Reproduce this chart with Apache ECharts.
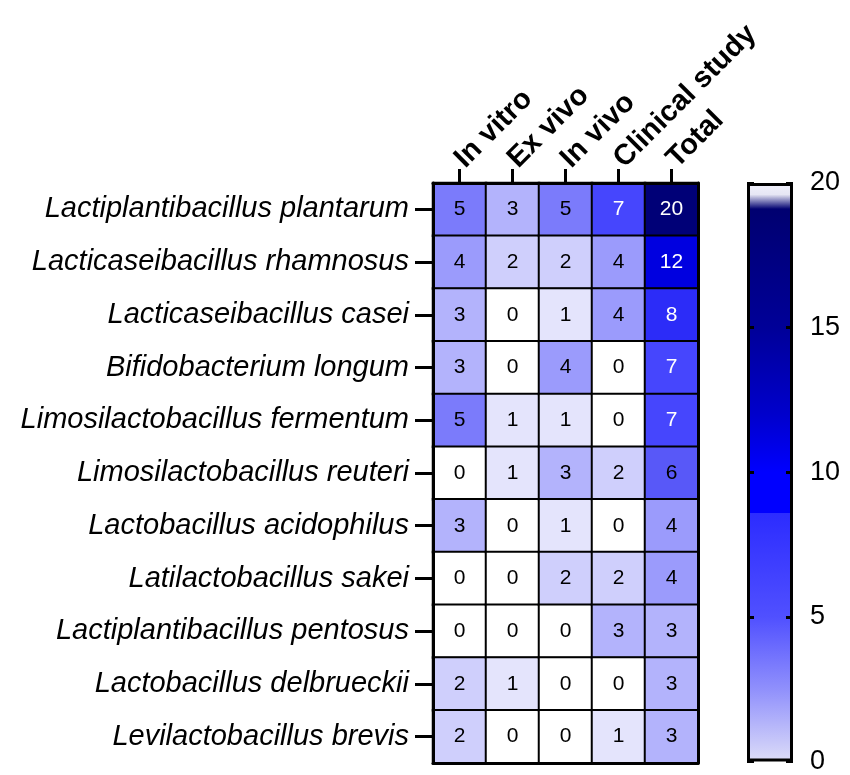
<!DOCTYPE html>
<html>
<head>
<meta charset="utf-8">
<script src="https://cdn.jsdelivr.net/npm/echarts@6/dist/echarts.min.js"></script>
<style>html,body{margin:0;padding:0;background:#fff;}#c{width:850px;height:775px;}</style>
</head>
<body>
<div id="c"></div>
<script>
const species = ['Lactiplantibacillus plantarum','Lacticaseibacillus rhamnosus','Lacticaseibacillus casei','Bifidobacterium longum','Limosilactobacillus fermentum','Limosilactobacillus reuteri','Lactobacillus acidophilus','Latilactobacillus sakei','Lactiplantibacillus pentosus','Lactobacillus delbrueckii','Levilactobacillus brevis'];
const studyTypes = ['In vitro','Ex vivo','In vivo','Clinical study','Total'];
const inVitro  = [5,4,3,3,5,0,3,0,0,2,2];
const exVivo   = [3,2,0,0,1,1,0,0,0,1,0];
const inVivo   = [5,2,1,4,1,3,1,2,0,0,0];
const clinical = [7,4,4,0,0,2,0,2,3,0,1];
const total    = [20,12,8,7,7,6,4,4,3,3,3];
const scaleTicks = [0,5,10,15,20];

const columns = [inVitro, exVivo, inVivo, clinical, total];
const data = [];
columns.forEach((col, x) => col.forEach((v, y) => {
  data.push({value: [x, y, v], label: {color: v >= 7 ? '#ffffff' : '#000000'}});
}));

const cellColors = [
  [0,'#ffffff'],[1,'#e4e4fc'],[2,'#cfcffc'],[3,'#b3b3fc'],[4,'#9b9bfc'],[5,'#7b7bfb'],
  [6,'#5858f8'],[7,'#4646fd'],[8,'#2c2cf8'],[12,'#0000e0'],[20,'#000077']
];
const pieces = cellColors.map((c, i) => i === 0 ? {lte: c[0], color: c[1]} : {gt: cellColors[i-1][0], lte: c[0], color: c[1]});

const font = '"Liberation Sans", Arial, sans-serif';
const chart = echarts.init(document.getElementById('c'), null, {renderer: 'canvas'});
chart.setOption({
  animation: false,
  backgroundColor: '#ffffff',
  grid: [
    {left: 433, top: 183, width: 265, height: 580},
    {left: 747, top: 183, width: 46, height: 580}
  ],
  xAxis: [
    {type: 'category', gridIndex: 0, data: studyTypes, position: 'top', z: 10,
     axisLine: {show: true, lineStyle: {color: '#000', width: 3}},
     axisTick: {show: true, alignWithLabel: true, length: 14, lineStyle: {color: '#000', width: 3}},
     axisLabel: {interval: 0, hideOverlap: false, rotate: -45, margin: 20, fontFamily: font, fontWeight: 'bold', fontSize: 29, color: '#000'},
     splitLine: {show: false}},
    {type: 'category', gridIndex: 0, data: studyTypes, position: 'bottom', z: 10,
     axisLine: {show: true, lineStyle: {color: '#000', width: 3}},
     axisTick: {show: false}, axisLabel: {show: false}},
    {type: 'category', gridIndex: 1, data: ['scale'], show: false}
  ],
  yAxis: [
    {type: 'category', gridIndex: 0, data: species, inverse: true, position: 'left', z: 10,
     axisLine: {show: true, lineStyle: {color: '#000', width: 3}},
     axisTick: {show: true, alignWithLabel: true, length: 18, lineStyle: {color: '#000', width: 3}},
     axisLabel: {interval: 0, margin: 24, fontFamily: font, fontStyle: 'italic', fontSize: 29, color: '#000'}},
    {type: 'category', gridIndex: 0, data: species, inverse: true, position: 'right', z: 10,
     axisLine: {show: true, lineStyle: {color: '#000', width: 3}},
     axisTick: {show: false}, axisLabel: {show: false}},
    {type: 'value', gridIndex: 1, min: scaleTicks[0], max: scaleTicks[scaleTicks.length-1], interval: 5, position: 'right', z: 10,
     axisLine: {show: false},
     axisTick: {show: true, inside: true, length: 7, lineStyle: {color: '#000', width: 3}},
     axisLabel: {margin: 17, fontFamily: font, fontSize: 27, color: '#000'},
     splitLine: {show: false}},
    {type: 'value', gridIndex: 1, min: scaleTicks[0], max: scaleTicks[scaleTicks.length-1], interval: 5, position: 'left', z: 10,
     axisLine: {show: false},
     axisTick: {show: true, inside: true, length: 7, lineStyle: {color: '#000', width: 3}},
     axisLabel: {show: false}, splitLine: {show: false}}
  ],
  visualMap: [{
    type: 'piecewise', show: false, seriesIndex: 0, dimension: 2, pieces: pieces
  }],
  series: [
    {type: 'heatmap', xAxisIndex: 0, yAxisIndex: 0, data: data,
     itemStyle: {borderColor: '#000', borderWidth: 2},
     label: {show: true, fontFamily: font, fontSize: 21},
     emphasis: {disabled: true}},
    {type: 'bar', xAxisIndex: 2, yAxisIndex: 2, data: [scaleTicks[scaleTicks.length-1]], barWidth: '100%',
     itemStyle: {borderColor: '#000', borderWidth: 3,
       color: new echarts.graphic.LinearGradient(0, 0, 0, 1, [
         {offset: 0, color: '#f2f2fc'}, {offset: 0.02, color: '#e6e6f4'},
         {offset: 0.045, color: '#000070'}, {offset: 0.25, color: '#000098'},
         {offset: 0.4, color: '#0000cc'}, {offset: 0.5, color: '#0000ff'},
         {offset: 0.57, color: '#0000ff'}, {offset: 0.571, color: '#2c2cff'},
         {offset: 0.75, color: '#5050ff'}, {offset: 0.875, color: '#9090fc'},
         {offset: 1, color: '#dcdcf8'}
       ])},
     emphasis: {disabled: true}}
  ]
});
</script>
</body>
</html>
